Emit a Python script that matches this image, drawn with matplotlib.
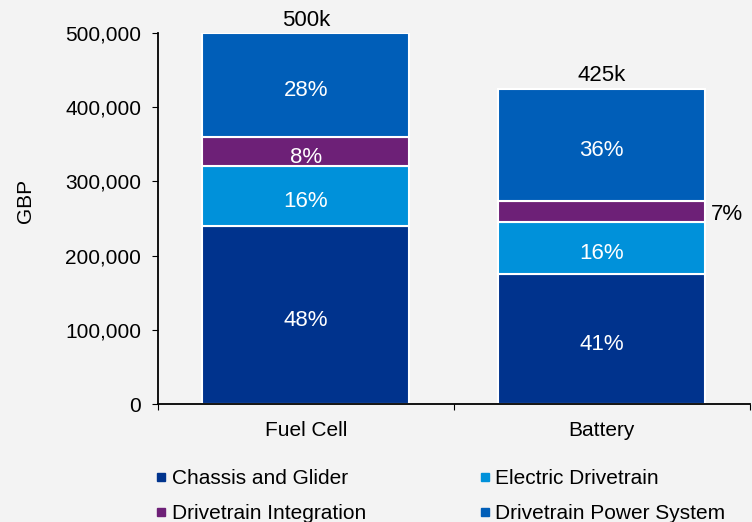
import matplotlib.pyplot as plt
from matplotlib.lines import Line2D
import numpy as np

plt.rcParams['font.family'] = ['Liberation Sans', 'DejaVu Sans']

categories = ['Fuel Cell', 'Battery']
series = ['Chassis and Glider', 'Electric Drivetrain', 'Drivetrain Integration', 'Drivetrain Power System']
chassis = [240000, 175000]
electric = [80000, 70000]
integration = [40000, 29000]
power = [140000, 151000]
pct_labels = [['48%', '41%'], ['16%', '16%'], ['8%', '7%'], ['28%', '36%']]
totals = ['500k', '425k']
colors = ['#00338D', '#0091DA', '#6D2077', '#005EB8']

fig = plt.figure(figsize=(7.52, 5.22), dpi=100)
fig.patch.set_facecolor('#f3f3f3')
ax = fig.add_axes([0.210, 0.226, 0.787, 0.711])
ax.set_facecolor('none')

x = np.arange(len(categories))
bottom = np.zeros(len(categories))
for i, vals in enumerate([chassis, electric, integration, power]):
    ax.bar(x, vals, bottom=bottom, width=0.7, color=colors[i],
           edgecolor='white', linewidth=1.5, zorder=2)
    for j in range(len(categories)):
        yc = bottom[j] + vals[j] / 2
        if i == 2 and j == 1:
            # small segment: label sits outside the bar
            ax.annotate(pct_labels[i][j], (x[j] + 0.37, yc), xytext=(0, -2),
                        textcoords='offset points', ha='left', va='center',
                        fontsize=16, color='black')
        else:
            ax.annotate(pct_labels[i][j], (x[j], yc), xytext=(0, -4),
                        textcoords='offset points', ha='center', va='center',
                        fontsize=16, color='white')
    bottom += np.array(vals)

for j in range(len(categories)):
    ax.text(x[j], bottom[j] + 3000, totals[j], ha='center', va='bottom', fontsize=16)

ax.set_xlim(-0.5, 1.5)
ax.set_ylim(0, 500000)
ax.set_yticks(np.arange(0, 500001, 100000))
ax.set_yticklabels([f'{v:,}' for v in range(0, 500001, 100000)], fontsize=15)
ax.set_xticks([-0.5, 0.5, 1.5])
ax.set_xticklabels([])
ax.set_xticks(x, minor=True)
ax.set_xticklabels(categories, minor=True, fontsize=15)
ax.tick_params(axis='x', which='minor', length=0, pad=12)
ax.tick_params(axis='x', which='major', length=4, direction='out')
ax.tick_params(axis='y', which='major', length=4, direction='out', pad=8)
ax.set_ylabel('GBP', fontsize=15)
ax.yaxis.set_label_coords(-0.208, 0.547)
for s in ['top', 'right']:
    ax.spines[s].set_visible(False)
for s in ['left', 'bottom']:
    ax.spines[s].set_linewidth(1.3)

handles = [Line2D([], [], marker='s', linestyle='none', markersize=6, color=c) for c in colors]
order = [0, 2, 1, 3]
fig.legend([handles[k] for k in order], [series[k] for k in order],
           loc='upper left', bbox_to_anchor=(0.2035, 0.101), ncol=2,
           frameon=False, fontsize=15, handletextpad=0.1, columnspacing=5.3,
           labelspacing=0.75, handlelength=0.8, borderpad=0, borderaxespad=0)

plt.savefig('out.png', dpi=100, facecolor=fig.get_facecolor())
